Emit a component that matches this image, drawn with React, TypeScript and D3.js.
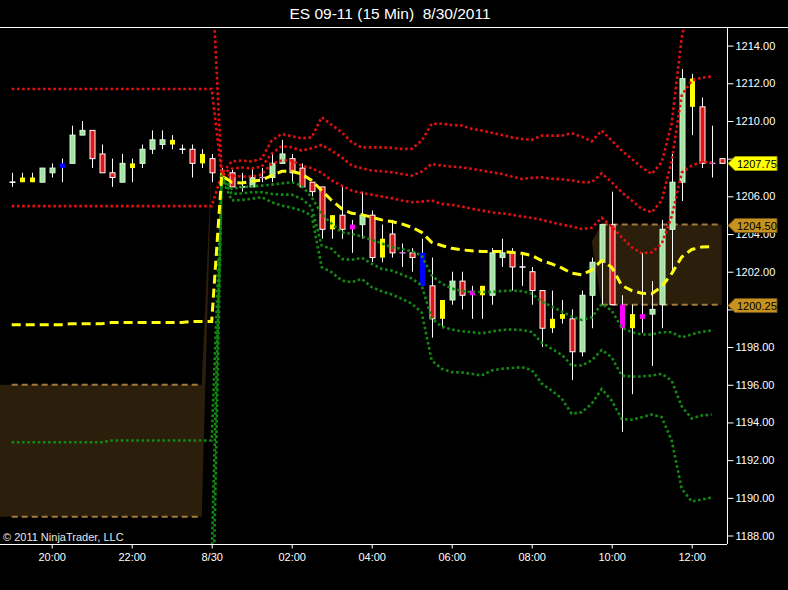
import { useEffect, useRef } from 'react'
import * as d3 from 'd3'

const W = 788, H = 590
const plot = { left: 0, right: 727, top: 27, bottom: 544 }

// ES 09-11, 15 min bars, first bar 19:00 on 8/29/2011
const opens = [1206.75, 1206.75, 1206.75, 1206.75, 1207.25, 1207.5, 1207.75, 1209.25, 1209.5, 1208.25, 1207.25, 1206.75, 1207.5, 1207.75, 1208.5, 1208.75, 1208.75, 1208.5, 1208.5, 1207.75, 1208.0, 1207.25, 1207.25, 1206.5, 1206.5, 1207.0, 1207.0, 1207.75, 1208.0, 1207.5, 1206.75, 1206.5, 1204.25, 1205.0, 1204.5, 1204.5, 1205.0, 1203.75, 1204.0, 1203.0, 1203.0, 1203.0, 1201.25, 1200.5, 1200.5, 1201.5, 1201.0, 1200.75, 1200.75, 1202.75, 1203.0, 1202.25, 1202.0, 1201.0, 1199.0, 1199.5, 1199.5, 1197.75, 1200.75, 1202.5, 1204.5, 1200.25, 1199.0, 1199.5, 1199.75, 1200.25, 1204.25, 1206.75, 1212.25, 1210.75, 1207.75, 1208.0]
const highs = [1207.25, 1207.25, 1207.25, 1207.5, 1207.75, 1208.0, 1209.75, 1210.0, 1209.5, 1208.75, 1208.0, 1208.25, 1208.0, 1208.75, 1209.5, 1209.5, 1209.25, 1208.75, 1208.75, 1208.5, 1208.25, 1207.5, 1207.5, 1207.25, 1207.5, 1207.5, 1208.25, 1209.0, 1208.25, 1207.75, 1206.75, 1206.5, 1205.0, 1206.5, 1204.75, 1206.25, 1205.25, 1204.5, 1204.75, 1203.5, 1203.25, 1203.75, 1202.75, 1200.5, 1202.0, 1202.0, 1201.25, 1201.25, 1203.25, 1203.75, 1203.25, 1203.0, 1202.25, 1201.0, 1201.0, 1200.5, 1200.0, 1201.0, 1202.75, 1204.5, 1206.25, 1200.75, 1200.25, 1203.0, 1201.5, 1204.75, 1208.25, 1212.75, 1212.5, 1211.25, 1209.75, 1208.0]
const lows = [1206.5, 1206.75, 1206.75, 1206.75, 1207.0, 1206.75, 1207.75, 1209.25, 1207.5, 1207.25, 1206.5, 1206.75, 1206.75, 1207.5, 1208.25, 1208.5, 1208.5, 1208.25, 1207.0, 1207.5, 1206.75, 1206.75, 1206.5, 1206.25, 1206.5, 1206.75, 1206.75, 1207.75, 1206.75, 1206.5, 1206.0, 1203.75, 1203.75, 1203.75, 1203.0, 1203.75, 1202.5, 1202.5, 1202.75, 1202.25, 1202.0, 1201.25, 1198.5, 1199.0, 1200.25, 1200.0, 1199.5, 1199.5, 1200.25, 1202.25, 1201.0, 1201.25, 1200.25, 1198.0, 1198.75, 1199.25, 1196.25, 1197.5, 1199.0, 1200.25, 1200.25, 1193.5, 1195.5, 1198.75, 1197.0, 1199.0, 1202.0, 1205.75, 1209.25, 1207.5, 1207.0, 1207.75]
const closes = [1206.75, 1207.0, 1207.0, 1207.5, 1207.5, 1207.75, 1209.25, 1209.5, 1208.0, 1207.25, 1207.0, 1207.75, 1207.75, 1208.5, 1209.0, 1209.0, 1209.0, 1208.5, 1207.75, 1208.25, 1207.25, 1207.0, 1206.5, 1206.5, 1207.0, 1207.0, 1207.75, 1208.25, 1207.25, 1206.5, 1206.25, 1204.25, 1205.0, 1204.25, 1204.25, 1205.0, 1202.75, 1202.75, 1203.0, 1203.0, 1202.75, 1201.25, 1199.5, 1199.5, 1201.5, 1200.75, 1200.75, 1201.25, 1203.0, 1203.0, 1202.25, 1202.25, 1201.0, 1199.0, 1199.5, 1199.75, 1197.75, 1200.75, 1202.5, 1204.5, 1200.25, 1199.0, 1199.75, 1199.75, 1200.0, 1204.25, 1206.75, 1212.25, 1210.75, 1207.75, 1207.75, 1207.75]
// u up, d down, y/b/m painted bars, w/p crosses
const barColors = 'wyyuubuuddduyuuuywdyd' + 'ydwupuuddddydmudydpdbdyudmyuudwddyyduuudmymuuuuydpd'

// VWAP and deviation bands (bars 0-70)
const vwap = [1199.19, 1199.19, 1199.19, 1199.19, 1199.19, 1199.19, 1199.24, 1199.24, 1199.24, 1199.24, 1199.30, 1199.30, 1199.30, 1199.30, 1199.30, 1199.30, 1199.30, 1199.30, 1199.36, 1199.36, 1199.36,
  1207.10, 1206.75, 1206.71, 1206.80, 1206.87, 1207.10, 1207.33, 1207.33, 1207.19, 1206.84, 1206.31, 1205.78, 1205.34, 1205.10, 1205.03, 1204.89, 1204.75, 1204.66, 1204.54, 1204.36, 1204.09, 1203.56, 1203.39, 1203.24, 1203.16, 1203.11, 1203.07, 1203.07, 1203.07, 1203.03, 1202.98, 1202.86, 1202.59, 1202.42, 1202.20, 1201.92, 1201.83, 1202.09, 1202.59, 1202.24, 1201.27, 1201.00, 1200.86, 1200.83, 1201.21, 1201.90, 1202.78, 1203.18, 1203.31, 1203.33]
const upper3 = [1218, 1218, 1218, 1218, 1218, 1218, 1218, 1218, 1218, 1218, 1218, 1218, 1218, 1218, 1218, 1218, 1218, 1218, 1218, 1218, 1218,
  1207.21, 1207.85, 1207.90, 1207.85, 1208.00, 1208.96, 1209.31, 1209.19, 1209.08, 1209.13, 1210.20, 1209.79, 1209.40, 1208.87, 1208.60, 1208.60, 1208.60, 1208.57, 1208.52, 1208.52, 1208.96, 1209.85, 1209.85, 1209.79, 1209.76, 1209.58, 1209.49, 1209.37, 1209.26, 1209.13, 1209.05, 1209.00, 1209.22, 1209.22, 1209.22, 1209.35, 1209.17, 1208.92, 1209.49, 1208.96, 1208.43, 1207.99, 1207.54, 1207.19, 1207.81, 1209.86, 1214.42, 1216.8, 1217.3, 1217.4]
const upper2 = [1211.7, 1211.7, 1211.7, 1211.7, 1211.7, 1211.7, 1211.7, 1211.7, 1211.7, 1211.7, 1211.7, 1211.7, 1211.7, 1211.7, 1211.7, 1211.7, 1211.7, 1211.7, 1211.7, 1211.7, 1211.7,
  1207.18, 1207.47, 1207.53, 1207.47, 1207.58, 1208.27, 1208.66, 1208.60, 1208.43, 1208.55, 1208.73, 1208.43, 1208.07, 1207.63, 1207.49, 1207.37, 1207.33, 1207.28, 1207.19, 1207.10, 1207.31, 1207.72, 1207.63, 1207.58, 1207.54, 1207.46, 1207.37, 1207.28, 1207.19, 1207.05, 1206.93, 1206.98, 1207.01, 1206.93, 1206.91, 1206.84, 1206.75, 1206.75, 1207.22, 1206.75, 1206.22, 1205.78, 1205.34, 1205.15, 1205.78, 1207.90, 1211.35, 1212.14, 1212.30, 1212.36]
const upper1 = [1205.48, 1205.48, 1205.48, 1205.48, 1205.48, 1205.48, 1205.48, 1205.48, 1205.48, 1205.48, 1205.48, 1205.48, 1205.48, 1205.48, 1205.48, 1205.48, 1205.48, 1205.48, 1205.48, 1205.48, 1205.48,
  1207.16, 1207.10, 1207.05, 1207.05, 1207.16, 1207.74, 1207.90, 1207.90, 1207.63, 1207.49, 1207.25, 1206.84, 1206.57, 1206.31, 1206.18, 1206.08, 1205.99, 1205.90, 1205.78, 1205.69, 1205.72, 1205.78, 1205.60, 1205.55, 1205.46, 1205.34, 1205.25, 1205.15, 1205.10, 1205.03, 1204.93, 1204.86, 1204.75, 1204.62, 1204.50, 1204.40, 1204.27, 1204.33, 1204.86, 1204.40, 1203.83, 1203.30, 1202.98, 1203.03, 1203.48, 1204.93, 1207.26, 1207.63, 1207.81, 1207.81]
const lower1 = [1192.95, 1192.95, 1192.95, 1192.95, 1192.95, 1192.95, 1192.95, 1192.95, 1192.95, 1192.95, 1193.04, 1193.04, 1193.04, 1193.04, 1193.04, 1193.04, 1193.04, 1193.04, 1193.04, 1193.04, 1193.04,
  1207.05, 1206.40, 1206.48, 1206.52, 1206.57, 1206.62, 1206.69, 1206.75, 1206.57, 1205.95, 1205.07, 1204.54, 1204.09, 1204.01, 1203.87, 1203.69, 1203.51, 1203.30, 1203.21, 1203.09, 1202.86, 1201.80, 1201.37, 1201.11, 1200.98, 1200.92, 1200.92, 1200.92, 1200.97, 1201.00, 1200.97, 1200.83, 1200.42, 1200.15, 1199.89, 1199.62, 1199.44, 1199.58, 1200.29, 1199.94, 1199.04, 1198.79, 1198.67, 1198.67, 1198.79, 1198.79, 1198.51, 1198.67, 1198.82, 1198.88]
const lower2 = [1186.8, 1186.8, 1186.8, 1186.8, 1186.8, 1186.8, 1186.8, 1186.8, 1186.8, 1186.8, 1186.8, 1186.8, 1186.8, 1186.8, 1186.8, 1186.8, 1186.8, 1186.8, 1186.8, 1186.8, 1186.8,
  1207.02, 1206.13, 1206.16, 1206.22, 1206.22, 1206.13, 1206.09, 1206.09, 1205.87, 1205.42, 1203.39, 1203.21, 1202.68, 1202.63, 1202.74, 1202.42, 1202.15, 1202.06, 1201.85, 1201.64, 1201.27, 1199.51, 1199.09, 1198.93, 1198.84, 1198.79, 1198.73, 1198.82, 1198.91, 1198.93, 1198.91, 1198.80, 1198.24, 1197.90, 1197.60, 1197.02, 1197.02, 1197.29, 1197.85, 1197.46, 1196.49, 1196.44, 1196.44, 1196.49, 1196.58, 1196.22, 1194.85, 1194.21, 1194.37, 1194.42]
const lower3 = [1180.6, 1180.6, 1180.6, 1180.6, 1180.6, 1180.6, 1180.6, 1180.6, 1180.6, 1180.6, 1180.6, 1180.6, 1180.6, 1180.6, 1180.6, 1180.6, 1180.6, 1180.6, 1180.6, 1180.6, 1180.6,
  1207.00, 1205.78, 1205.81, 1205.87, 1205.95, 1205.69, 1205.51, 1205.39, 1205.25, 1204.98, 1202.24, 1201.97, 1201.53, 1201.44, 1201.62, 1201.18, 1200.96, 1200.79, 1200.56, 1200.31, 1199.83, 1197.29, 1196.85, 1196.67, 1196.65, 1196.58, 1196.49, 1196.76, 1196.85, 1196.89, 1196.93, 1196.79, 1196.07, 1195.69, 1195.27, 1194.46, 1194.54, 1194.99, 1195.78, 1195.16, 1194.19, 1194.14, 1194.28, 1194.42, 1194.28, 1193.04, 1190.49, 1189.80, 1189.91, 1190.02]

// shaded zones (bar index ranges), tip = bar where the region starts/ends
const zones = [
  { from: 0, to: 19, hi: 1196.0, lo: 1189.0, tipAt: 20, tip: 1208.0, toEdge: true },
  { from: 59, to: 71, hi: 1204.5, lo: 1200.25, tipAt: 58, tip: 1203.6, toEdge: false },
]

const flags = [
  { price: 1207.75, fill: '#ffff00', stroke: '#a0a000' },
  { price: 1204.5, fill: '#c8921e', stroke: '#6e5010' },
  { price: 1200.25, fill: '#c8921e', stroke: '#6e5010' },
]

const priceTicks = d3.range(1188, 1215, 2)
const t0 = new Date(2011, 7, 29, 19, 0)

const palette: Record<string, string> = {
  u: '#a0e4a0', d: '#e41414', y: '#ffff00', b: '#0000ff', m: '#ff00ff', w: '#ffffff', p: '#d080d8',
}

export default function App() {
  const ref = useRef<SVGSVGElement | null>(null)

  useEffect(() => {
    document.body.style.margin = '0'
    document.body.style.background = '#000'
    if (!ref.current) return
    const svg = d3.select(ref.current)
    svg.selectAll('*').remove()
    const font = 'Liberation Sans, Arial, sans-serif'

    const timeAt = (i: number) => d3.timeMinute.offset(t0, 15 * i)
    const xT = d3.scaleTime().domain([timeAt(0), timeAt(71)]).range([11.7, 721.7])
    const x = (i: number) => xT(timeAt(i))
    const y = d3.scaleLinear().domain([1188, 1214]).range([535.5, 45.6])

    svg.append('rect').attr('width', W).attr('height', H).attr('fill', '#000')

    svg.append('defs').append('clipPath').attr('id', 'plotclip')
      .append('rect').attr('x', plot.left).attr('y', plot.top)
      .attr('width', plot.right - plot.left).attr('height', plot.bottom - plot.top)

    const g = svg.append('g').attr('clip-path', 'url(#plotclip)')

    // zones
    zones.forEach(z => {
      const x0 = z.toEdge ? plot.left : x(z.from)
      const pts: [number, number][] = z.tipAt > z.to
        ? [[x0, y(z.hi)], [x(z.to), y(z.hi)], [x(z.tipAt), y(z.tip)], [x(z.to), y(z.lo)], [x0, y(z.lo)]]
        : [[x(z.tipAt), y(z.tip)], [x(z.from), y(z.hi)], [x(z.to), y(z.hi)], [x(z.to), y(z.lo)], [x(z.from), y(z.lo)]]
      g.append('path').attr('d', 'M' + pts.join('L') + 'Z').attr('fill', '#2b1f0b')
      ;[z.hi, z.lo].forEach(v => {
        g.append('line').attr('x1', x(z.from)).attr('x2', x(z.to))
          .attr('y1', y(v)).attr('y2', y(v))
          .attr('stroke', '#a27a3c').attr('stroke-width', 2).attr('stroke-dasharray', '6 4')
      })
    })

    // candles
    const bars = opens.map((o, i) => ({ i, o, h: highs[i], l: lows[i], c: closes[i], k: barColors[i] }))
    const cg = g.append('g')
    cg.selectAll('line.wick').data(bars).enter().append('line')
      .attr('x1', d => Math.round(x(d.i)) + 0.5).attr('x2', d => Math.round(x(d.i)) + 0.5)
      .attr('y1', d => y(d.h)).attr('y2', d => y(d.l))
      .attr('stroke', '#ffffff').attr('stroke-width', 1)
    bars.forEach(d => {
      const cx = Math.round(x(d.i)) + 0.5
      if (d.k === 'w' || d.k === 'p') {
        cg.append('line').attr('x1', cx - 3).attr('x2', cx + 3)
          .attr('y1', y(d.c)).attr('y2', y(d.c))
          .attr('stroke', palette[d.k]).attr('stroke-width', 1.5)
        return
      }
      const top = y(Math.max(d.o, d.c)), bot = y(Math.min(d.o, d.c))
      const outlined = d.k === 'u' || d.k === 'd'
      cg.append('rect')
        .attr('x', cx - 2.5).attr('width', 5)
        .attr('y', top).attr('height', Math.max(1, bot - top))
        .attr('fill', palette[d.k])
        .attr('stroke', outlined ? (d.k === 'd' ? '#ffffff' : '#d8f8d8') : 'none')
        .attr('stroke-width', 1)
    })

    // bands
    const line = d3.line<number>().x((_, i) => x(i)).y(v => y(v))
    const dotted = (data: number[], color: string) => {
      g.append('path').attr('d', line(data)!).attr('fill', 'none')
        .attr('stroke', color).attr('stroke-width', 2.6).attr('stroke-dasharray', '2.6 2.6')
    }
    ;[upper3, upper2, upper1].forEach(s => dotted(s, '#e01010'))
    ;[lower1, lower2, lower3].forEach(s => dotted(s, '#128a12'))
    g.append('path').attr('d', line(vwap)!).attr('fill', 'none')
      .attr('stroke', '#ffff10').attr('stroke-width', 3).attr('stroke-dasharray', '9 5')

    // frame
    svg.append('line').attr('x1', 0).attr('x2', W).attr('y1', plot.top + 0.5).attr('y2', plot.top + 0.5)
      .attr('stroke', '#fff')
    svg.append('line').attr('x1', 0).attr('x2', plot.right).attr('y1', plot.bottom + 0.5).attr('y2', plot.bottom + 0.5)
      .attr('stroke', '#fff')
    svg.append('line').attr('x1', plot.right + 0.5).attr('x2', plot.right + 0.5).attr('y1', plot.top).attr('y2', plot.bottom)
      .attr('stroke', '#fff')

    // price axis (the 1208 label sits fully under the last-price flag)
    const ya = svg.append('g').attr('transform', `translate(${plot.right + 0.5},0)`)
      .call(d3.axisRight(y).tickValues(priceTicks)
        .tickFormat(d => (d as number) === 1208 ? '' : d3.format('.2f')(d as number))
        .tickSize(6).tickPadding(2))
    ya.select('.domain').remove()
    ya.selectAll('line').attr('stroke', '#fff')
    ya.selectAll('text').attr('fill', '#fff').attr('font-family', font).attr('font-size', 11)

    // time axis
    const fmtTime = d3.timeFormat('%H:%M'), fmtDay = d3.timeFormat('%-m/%-d')
    const xa = svg.append('g').attr('transform', `translate(0,${plot.bottom + 0.5})`)
      .call(d3.axisBottom(xT).ticks(d3.timeHour.every(2))
        .tickFormat(d => (d as Date).getHours() === 0 ? fmtDay(d as Date) : fmtTime(d as Date))
        .tickSize(4).tickPadding(5))
    xa.select('.domain').remove()
    xa.selectAll('line').attr('stroke', '#fff')
    xa.selectAll('text').attr('fill', '#fff').attr('font-family', font).attr('font-size', 11)

    // last-price / zone flags
    flags.forEach(f => {
      const yc = Math.round(y(f.price)) + 0.5
      svg.append('path')
        .attr('d', `M${plot.right + 1},${yc}L${plot.right + 8},${yc - 7}L${plot.right + 50},${yc - 7}L${plot.right + 50},${yc + 7}L${plot.right + 8},${yc + 7}Z`)
        .attr('fill', f.fill).attr('stroke', f.stroke).attr('stroke-width', 1)
      svg.append('text').attr('x', plot.right + 10).attr('y', yc + 4)
        .attr('font-family', font).attr('font-size', 11).attr('fill', '#000')
        .text(f.price.toFixed(2))
    })

    svg.append('text').attr('x', W / 2 - 4).attr('y', 19).attr('text-anchor', 'middle')
      .attr('font-family', font).attr('font-size', 15.5).attr('fill', '#fff')
      .style('white-space', 'pre')
      .text('ES 09-11 (15 Min)  8/30/2011')

    svg.append('text').attr('x', 3).attr('y', 541)
      .attr('font-family', font).attr('font-size', 11).attr('fill', '#e8e8e8')
      .text('© 2011 NinjaTrader, LLC')
  }, [])

  return <svg ref={ref} width={W} height={H} style={{ display: 'block', background: '#000' }} />
}
